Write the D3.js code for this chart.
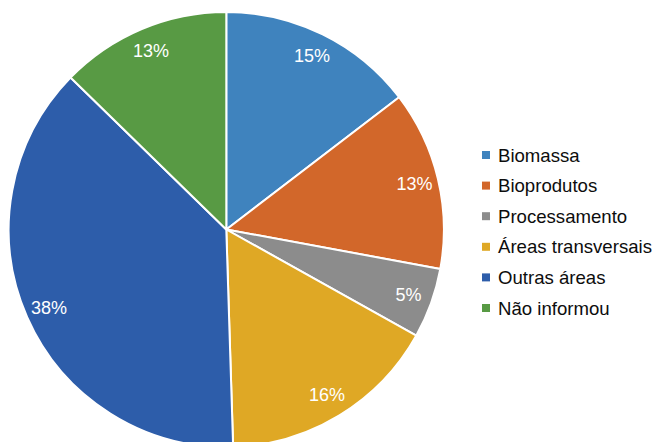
<!DOCTYPE html>
<html>
<head>
<meta charset="utf-8">
<script src="https://cdn.jsdelivr.net/npm/d3@7"></script>
<style>
html,body{margin:0;padding:0;background:#fff;}
svg{display:block;}
text{font-family:"Liberation Sans",Arial,sans-serif;}
</style>
</head>
<body>
<svg id="chart" width="654" height="442"></svg>
<script>
const categories = ["Biomassa","Bioprodutos","Processamento","Áreas transversais","Outras áreas","Não informou"];
const values = [14.6, 13.3, 5.2, 16.4, 37.8, 12.7];
const labels = ["15%","13%","5%","16%","38%","13%"];
const colors = ["#3F83BE","#D2672A","#8C8C8C","#DFA825","#2D5DAA","#589A44"];

const svg = d3.select("#chart");
const cx = 226.3, cy = 229.5, r = 217.6;

const pie = d3.pie().sort(null).value(d => d)(values);
const arc = d3.arc().innerRadius(0).outerRadius(r);
const labelArc = d3.arc().innerRadius(r*0.89).outerRadius(r*0.89);

const g = svg.append("g").attr("transform", `translate(${cx},${cy})`);
g.selectAll("path").data(pie).enter().append("path")
  .attr("d", arc)
  .attr("fill", (d,i) => colors[i])
  .attr("stroke", "#fff")
  .attr("stroke-width", 2)
  .attr("stroke-linejoin", "round");

g.selectAll("text.lbl").data(pie).enter().append("text")
  .attr("class","lbl")
  .attr("transform", d => `translate(${labelArc.centroid(d)})`)
  .attr("text-anchor","middle")
  .attr("dominant-baseline","central")
  .attr("fill","#fff")
  .attr("font-size","18px")
  .text((d,i) => labels[i]);

const legend = svg.append("g");
const y0 = 155, step = 30.6;
const rows = legend.selectAll("g").data(categories).enter().append("g")
  .attr("transform", (d,i) => `translate(482,${y0 + i*step})`);
rows.append("rect").attr("x",0).attr("y",-4).attr("width",8).attr("height",8)
  .attr("fill",(d,i)=>colors[i]);
rows.append("text").attr("x",16).attr("y",0)
  .attr("dominant-baseline","central")
  .attr("font-size","18.6px").attr("fill","#0d0d0d")
  .text(d=>d);
</script>
</body>
</html>
